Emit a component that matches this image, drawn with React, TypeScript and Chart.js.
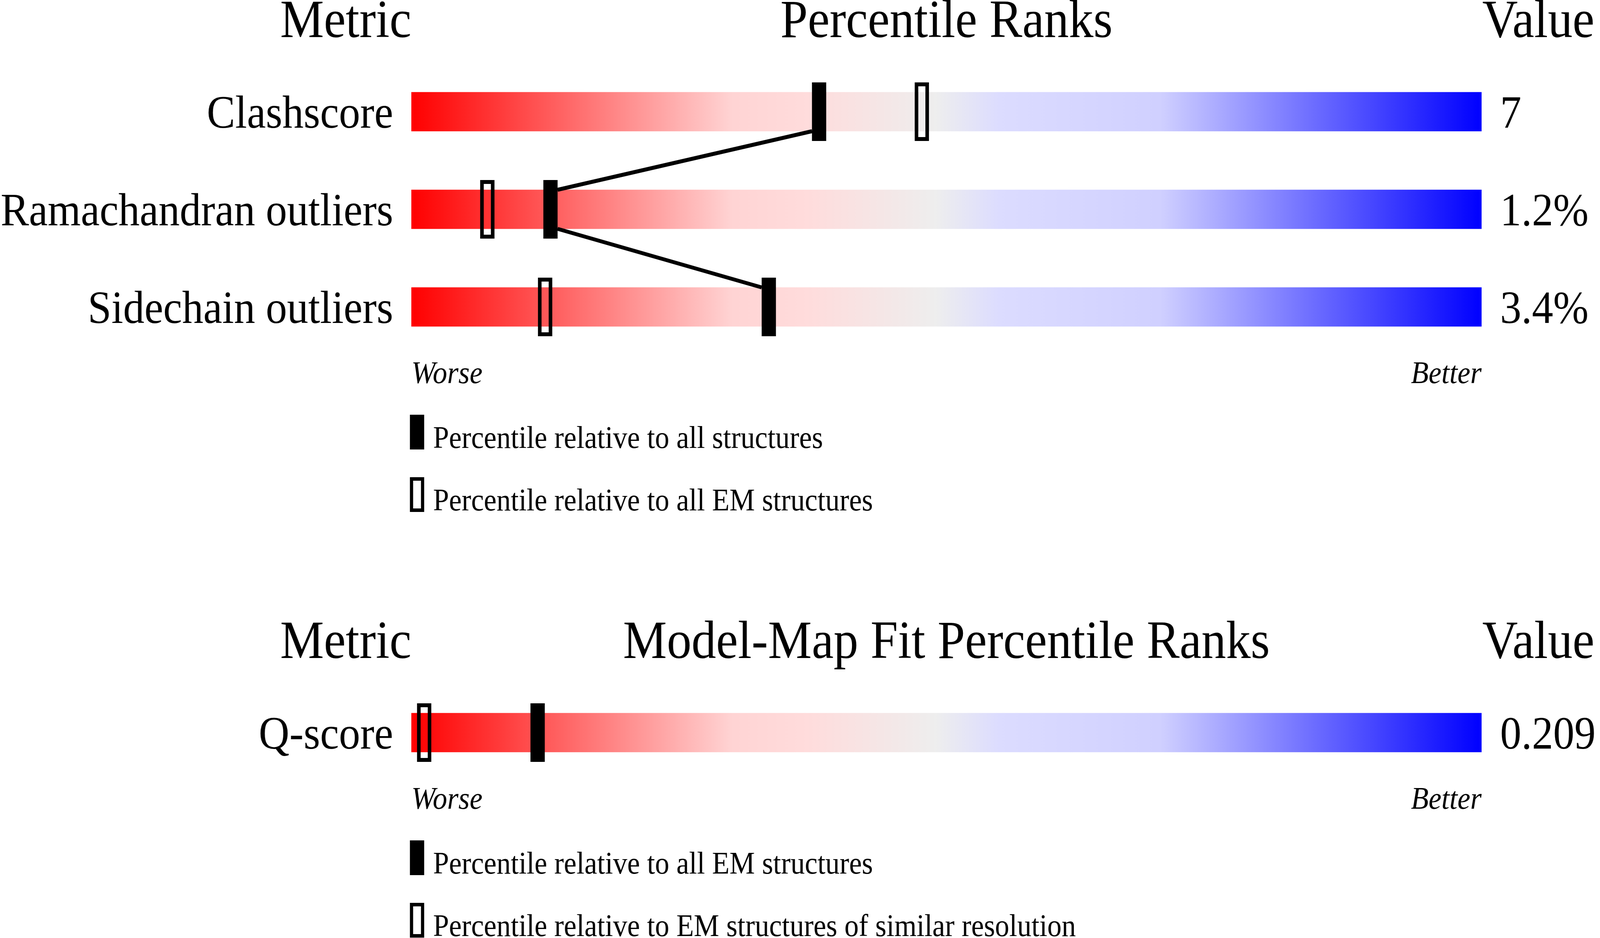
import React, { useEffect, useRef, useState } from 'react';
import { Chart, registerables } from 'chart.js';

Chart.register(...registerables);

// ---------------- data ----------------
const geometryMetrics = ['Clashscore', 'Ramachandran outliers', 'Sidechain outliers'];
const geometryValues = ['7', '1.2%', '3.4%'];
const geometryPctAll = [38.1, 13.0, 33.4]; // percentile relative to all structures (filled)
const geometryPctEM = [47.7, 7.1, 12.5]; // percentile relative to all EM structures (open)
const geometryTitles = ['Metric', 'Percentile Ranks', 'Value'];
const geometryLegend = ['Percentile relative to all structures', 'Percentile relative to all EM structures'];

const fitMetrics = ['Q-score'];
const fitValues = ['0.209'];
const fitPctEM = [11.8]; // percentile relative to all EM structures (filled)
const fitPctSimilar = [1.2]; // percentile relative to EM structures of similar resolution (open)
const fitTitles = ['Metric', 'Model-Map Fit Percentile Ranks', 'Value'];
const fitLegend = ['Percentile relative to all EM structures', 'Percentile relative to EM structures of similar resolution'];

const percentileRange = [0, 100];
const scaleEnds = ['Worse', 'Better'];

// ---------------- styles ----------------
const PAGE_W = 4485;
const PAGE_H = 2402;
const SERIF = '"Liberation Serif", "Times New Roman", serif';
const gradientStops: [number, string][] = [
  [0, '#ff0000'],
  [0.3, '#ffd4d4'],
  [0.37, '#ffdcdc'],
  [0.49, '#eeeeee'],
  [0.55, '#dcdcff'],
  [0.7, '#d0d0ff'],
  [1, '#0000ff'],
];

function makeMarker(filled: boolean, w: number, h: number, stroke: number) {
  const c = document.createElement('canvas');
  c.width = w;
  c.height = h;
  const g = c.getContext('2d')!;
  g.fillStyle = '#000';
  if (filled) {
    g.fillRect(0, 0, w, h);
  } else {
    g.fillRect(0, 0, w, stroke);
    g.fillRect(0, h - stroke, w, stroke);
    g.fillRect(0, 0, stroke, h);
    g.fillRect(w - stroke, 0, stroke, h);
  }
  return c;
}

type SectionCfg = {
  metrics: string[];
  values: string[];
  filled: number[];
  open: number[];
  titles: string[];
  legend: string[];
  connect: boolean;
  padTop: number;
  padBottom: number;
};

function buildChart(canvas: HTMLCanvasElement, cfg: SectionCfg) {
  const filledImg = makeMarker(true, 40, 150, 10);
  const openImg = makeMarker(false, 40, 150, 10);

  const sectionPlugin = {
    id: 'sectionText',
    afterDatasetsDraw(chart: any) {
      if (!cfg.connect) return;
      const xs = chart.scales.x;
      const bars = chart.getDatasetMeta(2).data;
      const half = filledImg.width / 2;
      const c = chart.ctx;
      c.save();
      c.strokeStyle = '#000';
      c.lineWidth = 10;
      for (let i = 0; i < cfg.metrics.length - 1; i++) {
        const x1 = xs.getPixelForValue(cfg.filled[i]);
        const x2 = xs.getPixelForValue(cfg.filled[i + 1]);
        const yBottom = bars[i].y + bars[i].height / 2;
        const yTop = bars[i + 1].y - bars[i + 1].height / 2;
        const dir = x2 < x1 ? -1 : 1;
        c.beginPath();
        c.moveTo(x1 + dir * half, yBottom);
        c.lineTo(x2 - dir * half, yTop);
        c.stroke();
      }
      c.restore();
    },
    afterDraw(chart: any) {
      const area = chart.chartArea;
      const c = chart.ctx;
      c.save();
      c.fillStyle = '#000';
      c.strokeStyle = '#000';
      c.textBaseline = 'alphabetic';
      // headers
      c.font = `138px ${SERIF}`;
      const hy = area.top - 66;
      c.textAlign = 'right';
      c.fillText(cfg.titles[0], area.left, hy);
      c.textAlign = 'center';
      c.fillText(cfg.titles[1], (area.left + area.right) / 2, hy);
      c.textAlign = 'left';
      c.fillText(cfg.titles[2], area.right + 2, hy);
      // legend
      c.font = `80px ${SERIF}`;
      const ly = area.bottom + 151;
      const mx = area.left - 4;
      for (let k = 0; k < cfg.legend.length; k++) {
        const top = ly + k * 160;
        if (k === 0) {
          c.fillRect(mx, top, 40, 89);
        } else {
          c.lineWidth = 9;
          c.strokeRect(mx + 4.5, top + 4.5, 31, 80);
        }
        c.textAlign = 'left';
        c.fillText(cfg.legend[k], area.left + 61, top + 85);
      }
      c.restore();
    },
  };

  const tickFont = { family: SERIF, size: 119, lineHeight: 1 };
  const noGrid = { display: false, drawTicks: false, tickLength: 0, offset: false };

  return new Chart(canvas, {
    type: 'bar',
    data: {
      labels: cfg.metrics,
      datasets: [
        {
          type: 'scatter',
          label: cfg.legend[0],
          data: cfg.metrics.map((m, i) => ({ x: cfg.filled[i], y: m })),
          pointStyle: filledImg,
          pointRadius: 5,
          pointHoverRadius: 5,
          clip: false,
          order: 1,
        } as any,
        {
          type: 'scatter',
          label: cfg.legend[1],
          data: cfg.metrics.map((m, i) => ({ x: cfg.open[i], y: m })),
          pointStyle: openImg,
          pointRadius: 5,
          pointHoverRadius: 5,
          clip: false,
          order: 0,
        } as any,
        {
          type: 'bar',
          indexAxis: 'y',
          data: cfg.metrics.map(() => percentileRange),
          backgroundColor: (ctx: any) => {
            const chart = ctx.chart;
            const xs = chart.scales.x;
            if (!xs || !chart.chartArea) return '#eeeeee';
            const g = chart.ctx.createLinearGradient(
              xs.getPixelForValue(percentileRange[0]), 0,
              xs.getPixelForValue(percentileRange[1]), 0,
            );
            gradientStops.forEach(([o, col]) => g.addColorStop(o, col));
            return g;
          },
          borderWidth: 0,
          barThickness: 100,
          grouped: false,
          order: 5,
          xAxisID: 'x',
          yAxisID: 'y',
        } as any,
      ],
    },
    options: {
      responsive: false,
      animation: false,
      events: [],
      layout: { padding: { top: cfg.padTop, bottom: cfg.padBottom, left: 0, right: 0 } },
      plugins: {
        legend: { display: false },
        title: { display: false },
        tooltip: { enabled: false },
      },
      scales: {
        x: {
          type: 'linear',
          position: 'bottom',
          offset: false,
          min: percentileRange[0],
          max: percentileRange[1],
          grid: noGrid,
          border: { display: false },
          afterBuildTicks: (s: any) => {
            s.ticks = percentileRange.map((v) => ({ value: v }));
          },
          afterFit: (s: any) => {
            s.height = 100;
          },
          ticks: {
            align: 'inner',
            padding: 8,
            maxRotation: 0,
            autoSkip: false,
            color: '#000',
            font: { family: SERIF, size: 81, style: 'italic', lineHeight: 1 },
            callback: (v: any) => (v === percentileRange[0] ? scaleEnds[0] : scaleEnds[1]),
          },
        },
        y: {
          type: 'category',
          position: 'left',
          offset: true,
          grid: noGrid,
          border: { display: false },
          afterFit: (s: any) => {
            s.width = 1153;
          },
          ticks: {
            padding: 51,
            labelOffset: 10,
            crossAlign: 'near',
            autoSkip: false,
            color: '#000',
            font: tickFont,
          },
        },
        y2: {
          type: 'category',
          position: 'right',
          labels: cfg.values,
          offset: true,
          grid: noGrid,
          border: { display: false },
          afterFit: (s: any) => {
            s.width = 332;
          },
          ticks: {
            padding: 52,
            labelOffset: 10,
            crossAlign: 'near',
            autoSkip: false,
            color: '#000',
            font: tickFont,
          },
        },
      },
    } as any,
    plugins: [sectionPlugin],
  });
}

function Section({ cfg, top, height, sx, sy }: { cfg: SectionCfg; top: number; height: number; sx: number; sy: number }) {
  const ref = useRef<HTMLCanvasElement>(null);
  useEffect(() => {
    const chart = buildChart(ref.current!, cfg);
    return () => chart.destroy();
  }, []);
  return (
    <canvas
      ref={ref}
      width={PAGE_W}
      height={height}
      style={{
        position: 'absolute',
        left: 0,
        top: top * sy,
        width: PAGE_W * sx,
        height: height * sy,
        display: 'block',
      }}
    />
  );
}

const geometryCfg: SectionCfg = {
  metrics: geometryMetrics,
  values: geometryValues,
  filled: geometryPctAll,
  open: geometryPctEM,
  titles: geometryTitles,
  legend: geometryLegend,
  connect: true,
  padTop: 161,
  padBottom: 389,
};

const fitCfg: SectionCfg = {
  metrics: fitMetrics,
  values: fitValues,
  filled: fitPctEM,
  open: fitPctSimilar,
  titles: fitTitles,
  legend: fitLegend,
  connect: false,
  padTop: 351,
  padBottom: 301,
};

export default function App() {
  const [vp] = useState(() => {
    document.body.style.margin = '0';
    document.body.style.overflow = 'hidden';
    document.documentElement.style.overflow = 'hidden';
    const w = document.documentElement.clientWidth || window.innerWidth || PAGE_W;
    const h = document.documentElement.clientHeight || window.innerHeight || PAGE_H;
    return { w, h };
  });
  const sx = vp.w / PAGE_W;
  const sy = vp.h / PAGE_H;
  return (
    <div
      style={{
        position: 'absolute',
        left: 0,
        top: 0,
        width: vp.w,
        height: vp.h,
        background: '#fff',
        overflow: 'hidden',
      }}
    >
      <Section cfg={geometryCfg} top={0} height={1400} sx={sx} sy={sy} />
      <Section cfg={fitCfg} top={1400} height={1002} sx={sx} sy={sy} />
    </div>
  );
}
